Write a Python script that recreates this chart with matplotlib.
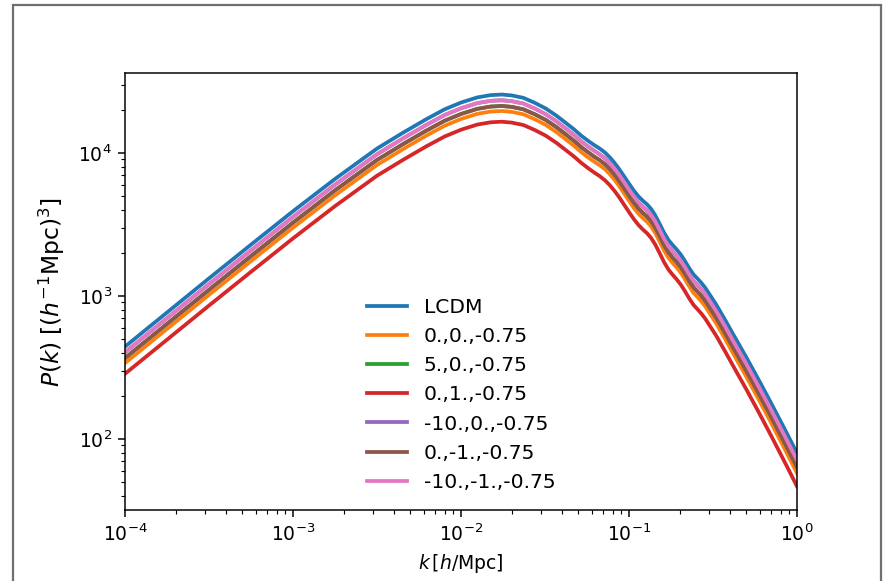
import matplotlib
matplotlib.use("Agg")
import matplotlib.pyplot as plt
from matplotlib.patches import Rectangle
import numpy as np

# wavenumbers k [h/Mpc]
k_values = [0.0001, 0.000178, 0.000316, 0.000562, 0.001, 0.00178, 0.00316, 0.0045,
            0.0062, 0.008, 0.01, 0.0125, 0.015, 0.0175, 0.02, 0.0235, 0.0275, 0.032,
            0.037, 0.042, 0.047, 0.052, 0.057, 0.062, 0.067, 0.072, 0.077, 0.082,
            0.087, 0.093, 0.1, 0.107, 0.114, 0.121, 0.128, 0.135, 0.143, 0.152,
            0.162, 0.172, 0.182, 0.192, 0.203, 0.215, 0.228, 0.242, 0.256, 0.27,
            0.285, 0.3, 0.33, 0.37, 0.42, 0.5, 0.6, 0.7, 0.85, 1.0]

# log10 P(k)
log10P_lcdm = [2.645, 2.884, 3.122, 3.358, 3.592, 3.818, 4.030, 4.140, 4.235, 4.305,
               4.352, 4.388, 4.404, 4.408, 4.402, 4.385, 4.350, 4.310, 4.260, 4.210,
               4.165, 4.120, 4.085, 4.055, 4.030, 4.002, 3.968, 3.930, 3.890, 3.840,
               3.785, 3.735, 3.695, 3.665, 3.640, 3.610, 3.565, 3.505, 3.440, 3.390,
               3.355, 3.325, 3.290, 3.245, 3.195, 3.150, 3.120, 3.090, 3.055, 3.015,
               2.940, 2.840, 2.725, 2.569, 2.399, 2.252, 2.062, 1.900]

log10P_0_0 = [2.530, 2.769, 3.007, 3.243, 3.477, 3.703, 3.915, 4.025, 4.120, 4.190,
              4.237, 4.273, 4.289, 4.293, 4.287, 4.270, 4.235, 4.195, 4.145, 4.095,
              4.050, 4.005, 3.969, 3.939, 3.913, 3.885, 3.850, 3.812, 3.771, 3.720,
              3.665, 3.614, 3.574, 3.543, 3.518, 3.487, 3.441, 3.381, 3.315, 3.265,
              3.229, 3.199, 3.163, 3.117, 3.067, 3.021, 2.991, 2.960, 2.925, 2.884,
              2.808, 2.707, 2.590, 2.433, 2.262, 2.114, 1.923, 1.760]

log10P_5_0 = [2.565, 2.804, 3.042, 3.278, 3.512, 3.738, 3.950, 4.060, 4.155, 4.225,
              4.272, 4.308, 4.324, 4.328, 4.322, 4.305, 4.270, 4.230, 4.180, 4.130,
              4.085, 4.040, 4.005, 3.974, 3.949, 3.920, 3.886, 3.848, 3.807, 3.757,
              3.701, 3.651, 3.611, 3.580, 3.555, 3.524, 3.479, 3.419, 3.353, 3.303,
              3.267, 3.237, 3.202, 3.156, 3.106, 3.060, 3.030, 3.000, 2.964, 2.924,
              2.848, 2.747, 2.631, 2.475, 2.304, 2.156, 1.965, 1.802]

log10P_0_1 = [2.455, 2.694, 2.932, 3.168, 3.402, 3.628, 3.840, 3.950, 4.045, 4.115,
              4.162, 4.198, 4.214, 4.218, 4.212, 4.195, 4.160, 4.120, 4.070, 4.020,
              3.975, 3.930, 3.894, 3.863, 3.837, 3.808, 3.773, 3.734, 3.693, 3.642,
              3.586, 3.536, 3.495, 3.464, 3.438, 3.407, 3.361, 3.300, 3.234, 3.183,
              3.147, 3.116, 3.080, 3.034, 2.983, 2.937, 2.906, 2.875, 2.839, 2.798,
              2.722, 2.620, 2.503, 2.345, 2.173, 2.024, 1.832, 1.668]

log10P_m10_0 = [2.605, 2.844, 3.082, 3.318, 3.552, 3.778, 3.990, 4.100, 4.195, 4.265,
                4.312, 4.348, 4.364, 4.368, 4.362, 4.345, 4.310, 4.270, 4.220, 4.170,
                4.125, 4.080, 4.045, 4.015, 3.989, 3.961, 3.927, 3.889, 3.849, 3.798,
                3.743, 3.693, 3.653, 3.623, 3.597, 3.567, 3.522, 3.462, 3.397, 3.346,
                3.311, 3.281, 3.246, 3.201, 3.150, 3.105, 3.075, 3.045, 3.010, 2.969,
                2.894, 2.794, 2.678, 2.522, 2.351, 2.204, 2.014, 1.851]

log10P_0_m1 = [2.565, 2.804, 3.042, 3.278, 3.512, 3.738, 3.950, 4.060, 4.155, 4.225,
               4.272, 4.308, 4.324, 4.328, 4.322, 4.305, 4.270, 4.230, 4.180, 4.130,
               4.085, 4.040, 4.005, 3.974, 3.949, 3.920, 3.886, 3.848, 3.807, 3.757,
               3.701, 3.651, 3.611, 3.580, 3.555, 3.524, 3.479, 3.419, 3.353, 3.303,
               3.267, 3.237, 3.202, 3.156, 3.106, 3.060, 3.030, 3.000, 2.964, 2.924,
               2.848, 2.747, 2.631, 2.475, 2.304, 2.156, 1.965, 1.802]

log10P_m10_m1 = [2.605, 2.844, 3.082, 3.318, 3.552, 3.778, 3.990, 4.100, 4.195, 4.265,
                 4.312, 4.348, 4.364, 4.368, 4.362, 4.345, 4.310, 4.270, 4.220, 4.170,
                 4.125, 4.080, 4.045, 4.015, 3.989, 3.961, 3.927, 3.889, 3.849, 3.798,
                 3.743, 3.693, 3.653, 3.623, 3.597, 3.567, 3.522, 3.462, 3.397, 3.346,
                 3.311, 3.281, 3.246, 3.201, 3.150, 3.105, 3.075, 3.045, 3.010, 2.969,
                 2.894, 2.794, 2.678, 2.522, 2.351, 2.204, 2.014, 1.851]

labels = ["LCDM", "0.,0.,-0.75", "5.,0.,-0.75", "0.,1.,-0.75",
          "-10.,0.,-0.75", "0.,-1.,-0.75", "-10.,-1.,-0.75"]
series = [log10P_lcdm, log10P_0_0, log10P_5_0, log10P_0_1,
          log10P_m10_0, log10P_0_m1, log10P_m10_m1]

DPI = 135
fig = plt.figure(figsize=(891 / DPI, 581 / DPI), dpi=DPI)
ax = fig.add_axes([125 / 891, 71 / 581, 672 / 891, 437 / 581])

k = np.array(k_values)
for lab, s in zip(labels, series):
    ax.plot(k, 10 ** np.array(s), lw=2, label=lab)

ax.set_xscale("log")
ax.set_yscale("log")
ax.set_xlim(1e-4, 1e0)
ax.set_ylim(31.8, 36200)
ax.set_xlabel(r"$k\,[h/\mathrm{Mpc}]$")
ax.set_ylabel(r"$P(k)\;[(h^{-1}\mathrm{Mpc})^3]$", fontsize=12.5, labelpad=6)
ax.legend(loc="lower center", frameon=False, fontsize=10.8)

fig.patches.append(Rectangle((13 / 891, -0.05), (881 - 13) / 891, 1 - 5 / 581 + 0.05,
                             transform=fig.transFigure, fill=False,
                             edgecolor="#707070", lw=1.2))

fig.savefig("out.png", dpi=DPI)
